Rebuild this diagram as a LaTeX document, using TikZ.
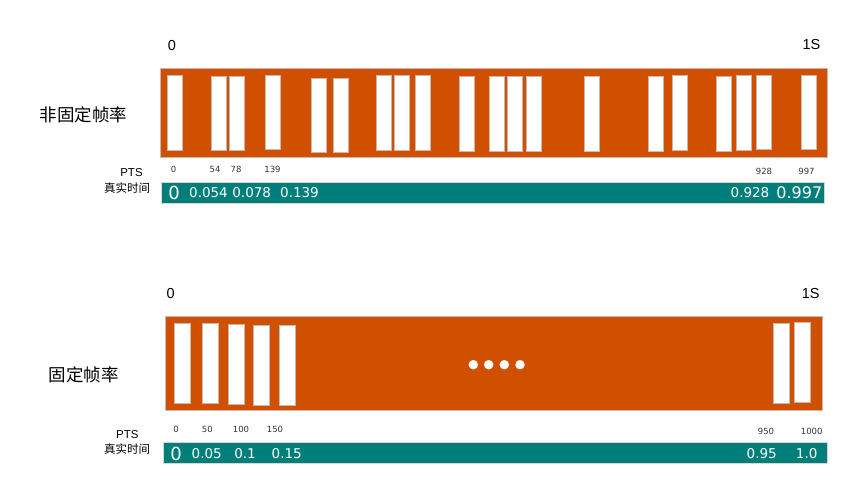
\documentclass[tikz,border=0pt]{standalone}
\usepackage{fontspec}
\setmainfont{Liberation Sans}
\newfontfamily\vfont{DejaVu Sans}
\newfontfamily\cjk{Noto Sans CJK SC}
\definecolor{barorange}{HTML}{D05000}
\definecolor{barteal}{HTML}{007F7A}
\definecolor{edgegray}{HTML}{C8B8B0}
\begin{document}
\begin{tikzpicture}[x=1pt,y=-1pt,
  orangebar/.style={fill=barorange,draw=edgegray,line width=0.6pt,inner sep=0,anchor=north west},
  tealbar/.style={fill=barteal,draw=edgegray!60,line width=0.6pt,inner sep=0,anchor=north west},
  framebox/.style={fill=white,draw=edgegray,line width=0.6pt,inner sep=0,anchor=north west,minimum width=15pt,minimum height=74.5pt},
  framebig/.style={framebox,minimum width=16pt,minimum height=80pt},
  endlbl/.style={font=\fontsize{14.5}{16}\selectfont,inner sep=0},
  ptslbl/.style={font=\vfont\fontsize{8.5}{9}\selectfont,text=black!80,inner sep=0},
  timelbl/.style={font=\vfont\fontsize{13.5}{15}\selectfont,text=white,inner sep=0},
  bigzero/.style={font=\vfont\fontsize{18}{20}\selectfont,text=white,inner sep=0},
  rowlbl/.style={font=\cjk\fontsize{17.5}{19}\selectfont,inner sep=0},
  sidelbl/.style={font=\fontsize{11.5}{13}\selectfont,inner sep=0},
  sidecjk/.style={font=\cjk\fontsize{11.5}{13}\selectfont,inner sep=0},
  dot/.style={circle,fill=white,inner sep=0,minimum size=9.5pt}]
\useasboundingbox (0,0) rectangle (859,487);

% ---------- top: variable frame rate ----------
\node[orangebar,minimum width=667pt,minimum height=89pt] (obar1) at (159.5,67.7) {};
\foreach \x/\y [count=\i] in {166.7/75,211/75.7,229.3/75.7,265/74.7,311/77.7,332.7/77.7,375.7/75.3,394/75.3,415.3/75.3,459/76,489.2/76,507.3/76,526.3/76,583.7/76,647.7/76,672/75.3,716.3/76,736.3/75.3,756/74.7,801/74.7}
  \node[framebox] (ta\i) at (\x,\y) {};

\node[endlbl] (t0) at (172,46) {0};
\node[endlbl] (t1s) at (811.5,45) {1S};
\node[rowlbl] (tname) at (83.5,115) {非固定帧率};
\node[sidelbl] (tpts) at (131.5,173) {PTS};
\node[sidecjk] (treal) at (127,188.5) {真实时间};

\node[ptslbl] (tp0) at (173.5,169) {0};
\node[ptslbl] (tp54) at (215,169) {54};
\node[ptslbl] (tp78) at (236,169) {78};
\node[ptslbl] (tp139) at (272.5,169) {139};
\node[ptslbl] (tp928) at (764,171) {928};
\node[ptslbl] (tp997) at (806.5,171) {997};

\node[tealbar,minimum width=663.5pt,minimum height=21pt] (tbar1) at (160.7,181.7) {};
\node[bigzero] (tr0) at (174,192.5) {0};
\node[timelbl] (tr1) at (208.5,192.5) {0.054};
\node[timelbl] (tr2) at (251.7,192.5) {0.078};
\node[timelbl] (tr3) at (299.5,192.5) {0.139};
\node[timelbl] (tr4) at (750,192.5) {0.928};
\node[bigzero,font=\vfont\fontsize{16}{18}\selectfont] (tr5) at (799.3,192.5) {0.997};

% ---------- bottom: fixed frame rate ----------
\node[orangebar,minimum width=656.7pt,minimum height=94.3pt] (obar2) at (165,315.7) {};
\foreach \x/\y [count=\i] in {174/323.3,202/323.3,227.7/324.3,253.3/325,279.3/325,772.7/322.7,794.3/322}
  \node[framebig] (ba\i) at (\x,\y) {};
\foreach \x [count=\i] in {473.3,488.7,504.3,520}
  \node[dot] (d\i) at (\x,364.7) {};

\node[endlbl] (b0) at (170.7,294) {0};
\node[endlbl] (b1s) at (810.7,294) {1S};
\node[rowlbl] (bname) at (83.5,375) {固定帧率};
\node[sidelbl] (bpts) at (127.3,435) {PTS};
\node[sidecjk] (breal) at (127,449.5) {真实时间};

\node[ptslbl] (bp0) at (176,429) {0};
\node[ptslbl] (bp50) at (207.3,429) {50};
\node[ptslbl] (bp100) at (241,429.5) {100};
\node[ptslbl] (bp150) at (275,429.5) {150};
\node[ptslbl] (bp950) at (766,431.5) {950};
\node[ptslbl] (bp1000) at (811.7,431) {1000};

\node[tealbar,minimum width=663.4pt,minimum height=21pt] (tbar2) at (163.3,442.3) {};
\node[bigzero] (br0) at (176,453.5) {0};
\node[timelbl] (br1) at (206.7,453.5) {0.05};
\node[timelbl] (br2) at (245,453.5) {0.1};
\node[timelbl] (br3) at (286.7,453.5) {0.15};
\node[timelbl] (br4) at (761.7,453.5) {0.95};
\node[timelbl] (br5) at (806.7,453.5) {1.0};
\end{tikzpicture}
\end{document}
